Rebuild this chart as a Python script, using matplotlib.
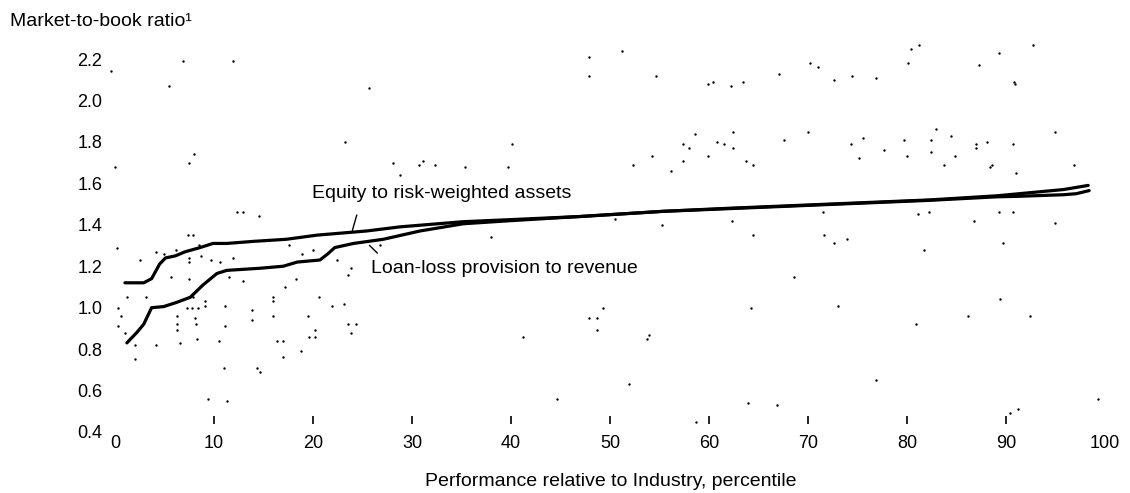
import matplotlib
matplotlib.use("Agg")
import matplotlib.pyplot as plt

plt.rcParams['font.family'] = ['Liberation Sans', 'DejaVu Sans']

# percentile vs market-to-book ratio
equity_x = [1.0, 2.9, 3.7, 4.5, 5.1, 6.1, 7.1, 8.6, 9.9, 11.3, 14.0, 17.3, 20.4, 25.4,
            28.8, 35.2, 40.0, 47.0, 55.4, 62.1, 67.2, 72.2, 82.3, 89.1, 95.8, 98.3]
equity_y = [1.12, 1.12, 1.14, 1.21, 1.24, 1.25, 1.27, 1.29, 1.31, 1.31, 1.32, 1.33, 1.35, 1.37,
            1.39, 1.415, 1.425, 1.44, 1.465, 1.48, 1.49, 1.50, 1.52, 1.54, 1.57, 1.59]

loan_x = [1.2, 2.2, 2.9, 3.7, 4.9, 6.2, 7.6, 8.9, 10.3, 11.3, 14.6, 17.0, 18.4, 20.7, 21.5,
          22.2, 24.1, 27.1, 30.8, 35.2, 40.0, 47.0, 55.4, 62.1, 67.2, 72.2, 82.3, 89.1,
          91.0, 95.8, 97.1, 98.4]
loan_y = [0.83, 0.88, 0.92, 1.00, 1.005, 1.025, 1.05, 1.11, 1.165, 1.18, 1.19, 1.20, 1.22,
          1.23, 1.26, 1.29, 1.31, 1.33, 1.37, 1.405, 1.42, 1.44, 1.465, 1.478, 1.488, 1.498,
          1.518, 1.535, 1.537, 1.545, 1.55, 1.565]

# individual banks (scatter)
banks = [
    (6.9, 2.19), (11.9, 2.19), (-0.4, 2.14), (5.5, 2.07), (25.7, 2.06), (23.2, 1.80),
    (8.0, 1.74), (7.5, 1.70), (0.0, 1.68), (28.1, 1.70), (12.3, 1.46), (12.9, 1.46),
    (14.5, 1.44), (7.4, 1.35), (7.9, 1.35), (0.2, 1.29),
    (47.9, 2.21), (51.2, 2.24), (47.9, 2.12), (54.6, 2.12), (59.9, 2.08), (60.4, 2.09),
    (62.2, 2.07), (63.4, 2.09), (67.1, 2.13), (58.6, 1.84), (62.4, 1.85), (57.4, 1.79),
    (58.0, 1.77), (60.8, 1.80), (61.5, 1.79), (62.4, 1.77), (54.2, 1.73), (59.9, 1.73),
    (57.4, 1.71), (63.7, 1.71), (64.4, 1.69), (52.3, 1.69), (56.2, 1.66), (40.1, 1.79),
    (30.7, 1.69), (31.1, 1.71), (32.3, 1.69), (35.4, 1.68), (39.7, 1.68), (28.8, 1.64),
    (50.5, 1.43), (55.3, 1.40), (62.3, 1.42), (38.0, 1.34), (64.4, 1.35),
    (81.2, 2.27), (80.4, 2.25), (92.7, 2.27), (89.3, 2.23), (70.2, 2.18), (71.0, 2.16),
    (80.1, 2.18), (87.3, 2.17), (74.4, 2.12), (76.9, 2.11), (72.6, 2.10), (90.8, 2.09),
    (90.9, 2.08), (70.0, 1.85), (82.9, 1.86), (67.6, 1.81), (75.6, 1.82), (79.7, 1.81),
    (82.4, 1.81), (84.4, 1.83), (88.1, 1.80), (90.7, 1.79), (94.9, 1.85), (74.3, 1.79),
    (77.7, 1.76), (87.0, 1.79), (87.0, 1.77), (82.4, 1.75), (80.0, 1.73), (84.8, 1.73),
    (75.2, 1.72), (83.7, 1.69), (88.4, 1.68), (88.6, 1.69), (96.9, 1.69), (91.0, 1.65),
    (71.5, 1.46), (81.1, 1.45), (82.2, 1.46), (89.3, 1.46), (90.7, 1.46), (86.8, 1.42),
    (94.9, 1.41), (71.6, 1.35), (72.6, 1.31), (73.9, 1.33), (81.7, 1.28), (89.7, 1.31),
    (49.3, 1.00), (47.9, 0.95), (48.7, 0.95), (48.7, 0.89), (64.2, 1.00), (41.2, 0.86),
    (53.9, 0.87), (53.7, 0.85), (51.9, 0.63), (44.6, 0.56), (63.9, 0.54), (66.9, 0.53),
    (58.7, 0.45),
    (68.6, 1.15), (73.0, 1.01), (89.4, 1.04), (86.2, 0.96), (92.4, 0.96), (80.9, 0.92),
    (76.9, 0.65), (91.2, 0.51), (99.3, 0.56), (90.4, 0.49),
    (2.5, 1.23), (4.1, 1.27), (8.5, 1.30), (6.2, 1.28), (4.9, 1.26), (7.5, 1.24),
    (7.5, 1.22), (8.7, 1.25), (9.7, 1.23), (10.6, 1.22), (11.9, 1.24), (5.7, 1.15),
    (7.5, 1.14), (11.5, 1.15), (12.9, 1.13), (17.6, 1.30), (20.0, 1.28), (18.9, 1.26),
    (18.3, 1.14), (17.2, 1.10), (22.4, 1.23), (23.8, 1.19), (23.5, 1.16), (26.8, 1.30),
    (1.2, 1.05), (3.1, 1.05), (0.3, 1.00), (0.6, 0.96), (0.3, 0.91), (1.0, 0.88),
    (2.0, 0.82), (2.0, 0.75), (4.1, 0.82), (6.6, 0.83), (6.3, 0.96), (6.3, 0.92),
    (6.3, 0.89), (7.3, 1.00), (7.8, 1.00), (7.9, 1.05), (8.4, 1.00), (9.1, 1.03),
    (9.1, 1.01), (8.1, 0.95), (8.2, 0.92), (8.3, 0.85), (10.5, 0.84), (11.1, 1.01),
    (11.1, 0.91), (13.8, 0.99), (13.8, 0.94), (16.0, 1.05), (16.0, 1.03), (16.0, 0.96),
    (16.4, 0.84), (17.0, 0.84), (17.0, 0.76), (18.8, 0.79), (19.5, 0.96), (19.6, 0.86),
    (20.2, 0.86), (20.2, 0.89), (20.6, 1.05), (21.9, 1.01), (23.1, 1.02), (23.5, 0.92),
    (24.3, 0.92), (23.8, 0.88), (11.0, 0.71), (14.3, 0.71), (14.6, 0.69), (9.4, 0.56),
    (11.3, 0.55),
]
bank_x, bank_y = zip(*banks)

x_ticks = list(range(0, 101, 10))
y_ticks = [0.4, 0.6, 0.8, 1.0, 1.2, 1.4, 1.6, 1.8, 2.0, 2.2]

fig = plt.figure(figsize=(11.3, 4.93), dpi=100)
ax = fig.add_axes([105.1 / 1130, 40.3 / 493, 1009.8 / 1130, 414.4 / 493])

ax.scatter(bank_x, bank_y, s=3, color='black', linewidths=0, zorder=1)
ax.plot(equity_x, equity_y, color='black', lw=2.3, zorder=3, solid_capstyle='round')
ax.plot(loan_x, loan_y, color='black', lw=2.3, zorder=3, solid_capstyle='round')

# line labels with short leader lines
ax.text(19.9, 1.553, 'Equity to risk-weighted assets', fontsize=14, va='center', ha='left')
ax.annotate('', xy=(23.9, 1.36), xytext=(24.5, 1.46),
            arrowprops=dict(arrowstyle='-', lw=1, color='black'))
ax.text(25.9, 1.187, 'Loan-loss provision to revenue', fontsize=14, va='center', ha='left')
ax.annotate('', xy=(25.5, 1.31), xytext=(26.7, 1.254),
            arrowprops=dict(arrowstyle='-', lw=1, color='black'))

ax.set_xlim(-1, 101)
ax.set_ylim(0.3, 2.3)
for s in ax.spines.values():
    s.set_visible(False)
ax.spines['bottom'].set_position(('data', 0.44))

ax.set_xticks(x_ticks)
ax.set_xticklabels([str(t) for t in x_ticks])
ax.tick_params(axis='x', direction='in', length=6, width=1.2, pad=8, labelsize=13)
xt = ax.xaxis.get_major_ticks()
xt[0].tick1line.set_visible(False)
xt[-1].tick1line.set_visible(False)

ax.set_yticks(y_ticks)
ax.set_yticklabels(['%.1f' % t for t in y_ticks])
ax.tick_params(axis='y', length=0, pad=2, labelsize=13)

fig.text(10 / 1130, 1 - 22 / 493, 'Market-to-book ratio\u00b9', fontsize=14, va='center', ha='left')
fig.text(611 / 1130, 1 - 481 / 493, 'Performance relative to Industry, percentile',
         fontsize=14, va='center', ha='center')

fig.savefig('out.png', dpi=100, facecolor='white')
